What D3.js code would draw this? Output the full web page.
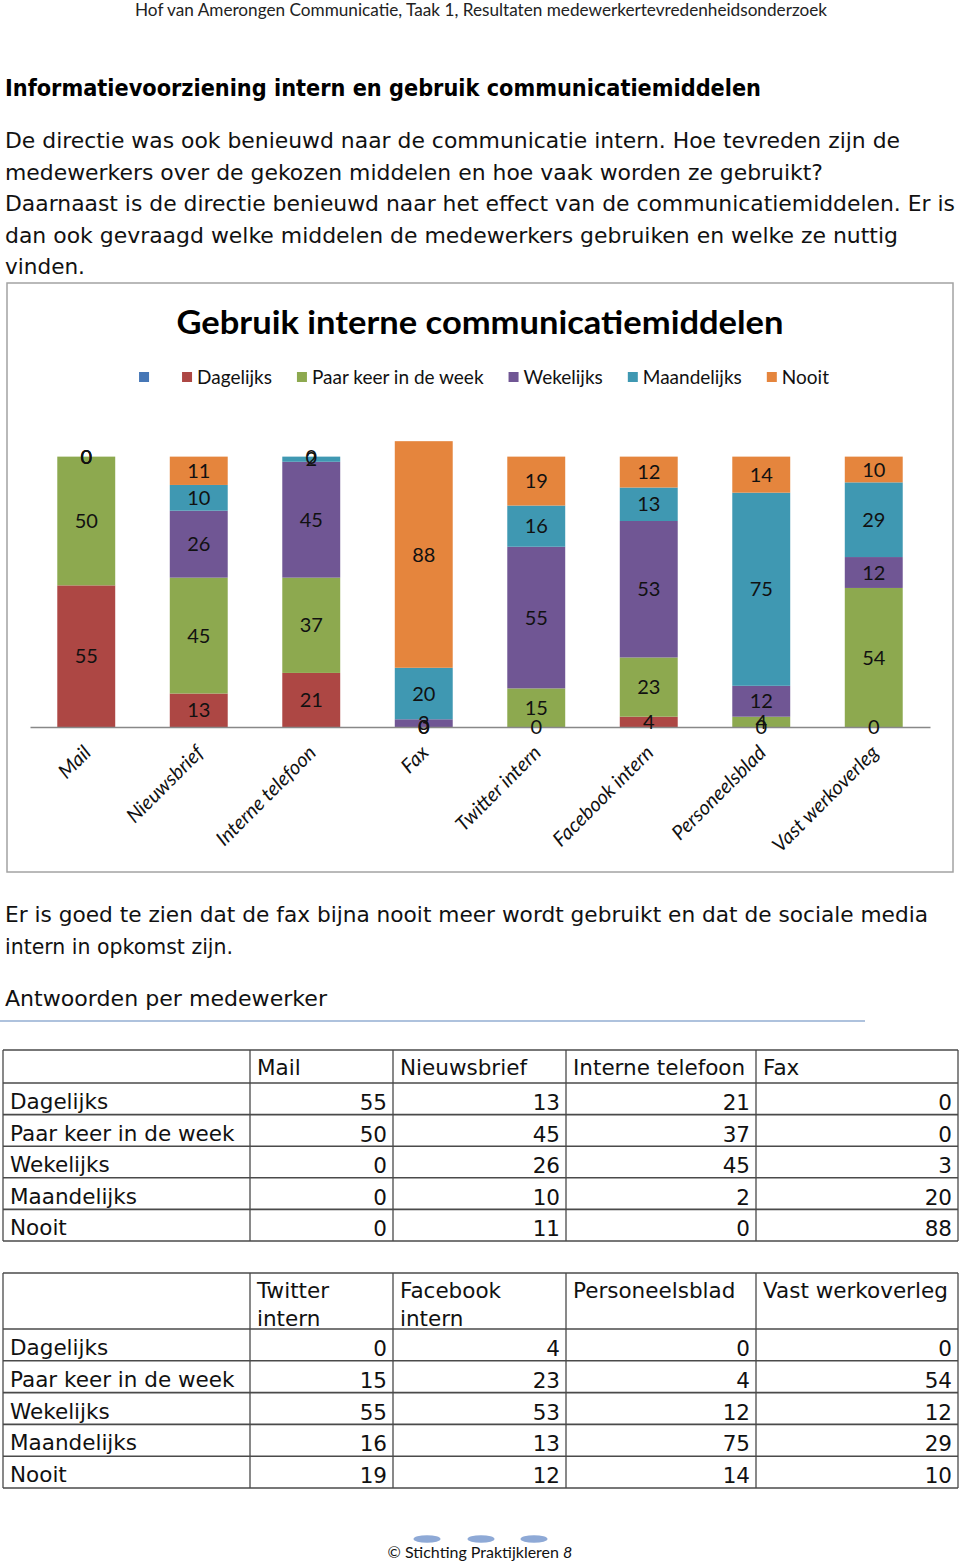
<!DOCTYPE html>
<html><head><meta charset="utf-8">
<script src="https://cdn.jsdelivr.net/npm/d3@7"></script>
<style>
html,body{margin:0;padding:0;background:#fff;}
svg{display:block;}
</style></head><body>
<script>
// ---------- data ----------
const categories = ["Mail","Nieuwsbrief","Interne telefoon","Fax","Twitter intern","Facebook intern","Personeelsblad","Vast werkoverleg"];
const seriesNames = ["Dagelijks","Paar keer in de week","Wekelijks","Maandelijks","Nooit"];
const dagelijks   = [55,13,21, 0, 0, 4, 0, 0];
const paarKeer    = [50,45,37, 0,15,23, 4,54];
const wekelijks   = [ 0,26,45, 3,55,53,12,12];
const maandelijks = [ 0,10, 2,20,16,13,75,29];
const nooit       = [ 0,11, 0,88,19,12,14,10];
const seriesValues = [dagelijks, paarKeer, wekelijks, maandelijks, nooit];
const seriesColors = ["#AD4744","#8DA94F","#705694","#3F98B2","#E5853D"];
const emptySeriesColor = "#4677B6";

const pageHeader = "Hof van Amerongen Communicatie, Taak 1, Resultaten medewerkertevredenheidsonderzoek";
const sectionTitle = "Informatievoorziening intern en gebruik communicatiemiddelen";
const introLines = [
  "De directie was ook benieuwd naar de communicatie intern. Hoe tevreden zijn de",
  "medewerkers over de gekozen middelen en hoe vaak worden ze gebruikt?",
  "Daarnaast is de directie benieuwd naar het effect van de communicatiemiddelen. Er is",
  "dan ook gevraagd welke middelen de medewerkers gebruiken en welke ze nuttig",
  "vinden."
];
const chartTitle = "Gebruik interne communicatiemiddelen";
const outroLines = [
  "Er is goed te zien dat de fax bijna nooit meer wordt gebruikt en dat de sociale media",
  "intern in opkomst zijn."
];
const tableCaption = "Antwoorden per medewerker";
const table1Headers = [["Mail"],["Nieuwsbrief"],["Interne telefoon"],["Fax"]];
const table2Headers = [["Twitter","intern"],["Facebook","intern"],["Personeelsblad"],["Vast werkoverleg"]];
const footerText = "© Stichting Praktijkleren ";
const footerPage = "8";

// ---------- layout ----------
const W = 960, H = 1563;
const bodyFont = "'DejaVu Sans', sans-serif";
const chartFont = "Lato, 'Open Sans', sans-serif";
const introWidths = [895, 818, 950, 893, 80];
const outroWidths = [923, 228];

const svg = d3.select("body").append("svg").attr("width", W).attr("height", H);

// page header
svg.append("text").attr("x", 481).attr("y", 16).attr("text-anchor","middle")
  .style("font-family", chartFont).style("font-size","17px").attr("fill","#222")
  .attr("textLength", 692).attr("lengthAdjust","spacingAndGlyphs").text(pageHeader);

// section title
svg.append("text").attr("x", 5).attr("y", 96)
  .style("font-family", bodyFont).style("font-size","23px").style("font-weight","bold").attr("fill","#000")
  .attr("textLength", 756).attr("lengthAdjust","spacingAndGlyphs").text(sectionTitle);

// intro paragraph
svg.selectAll("text.intro").data(introLines).join("text").attr("class","intro")
  .attr("x", 5).attr("y", (d,i) => 148 + i*31.6)
  .style("font-family", bodyFont).style("font-size","21.5px").attr("fill","#111")
  .attr("textLength", (d,i) => introWidths[i]).attr("lengthAdjust","spacingAndGlyphs")
  .text(d => d);

// ---------- chart ----------
const frame = {x: 7, y: 283, w: 946, h: 589};
svg.append("rect").attr("x", frame.x).attr("y", frame.y).attr("width", frame.w).attr("height", frame.h)
  .attr("fill","#fff").attr("stroke","#A3A3A3").attr("stroke-width",1.5);

svg.append("text").attr("x", 480).attr("y", 334).attr("text-anchor","middle")
  .style("font-family", chartFont).style("font-size","32px").style("font-weight","bold").attr("fill","#000")
  .attr("textLength", 607).attr("lengthAdjust","spacingAndGlyphs").text(chartTitle);

// legend
const legendItems = [{name:"", color: emptySeriesColor}]
  .concat(seriesNames.map((n,i) => ({name:n, color: seriesColors[i]})));
const legend = svg.append("g");
let lx = 0;
legendItems.forEach(it => {
  const g = legend.append("g").attr("transform", `translate(${lx},0)`);
  g.append("rect").attr("x",0).attr("y",-5).attr("width",10).attr("height",10).attr("fill", it.color);
  const t = g.append("text").attr("x",15).attr("y",0).attr("dy","0.36em")
    .style("font-family", chartFont).style("font-size","19px").attr("fill","#111").text(it.name);
  const w = it.name ? t.node().getComputedTextLength() : 0;
  lx += 15 + w + (it.name ? 25 : 28);
});
const legendTotal = lx - 25;
legend.attr("transform", `translate(${484 - legendTotal/2},377)`);

// scales
const plotLeft = 30, plotRight = 930, baseY = 727, pxPerUnit = 2.575;
const x = d3.scaleBand().domain(categories).range([plotLeft, plotRight]).paddingInner(0.485).paddingOuter(0.2425);
const y = d3.scaleLinear().domain([0, 120]).range([baseY, baseY - 120*pxPerUnit]);

const rows = categories.map((c, ci) => {
  const r = {cat: c};
  seriesNames.forEach((s, si) => r[s] = seriesValues[si][ci]);
  return r;
});
const stacked = d3.stack().keys(seriesNames)(rows);

const barsG = svg.append("g");
stacked.forEach((layer, si) => {
  barsG.append("g").attr("fill", seriesColors[si])
    .selectAll("rect").data(layer).join("rect")
    .attr("x", d => x(d.data.cat)).attr("width", x.bandwidth())
    .attr("y", d => y(d[1])).attr("height", d => y(d[0]) - y(d[1]));
});

// x axis
const xAxis = svg.append("g").attr("transform", `translate(0,${baseY})`)
  .call(d3.axisBottom(x).tickSize(0).tickSizeOuter(0));
xAxis.select(".domain").attr("stroke","#888").attr("stroke-width",1.3);
xAxis.selectAll(".tick text")
  .attr("x", 6).attr("y", 27).attr("dy", 0)
  .attr("transform", "rotate(-45,6,27)").attr("text-anchor","end")
  .style("font-family", chartFont).style("font-size","20px").style("font-style","italic").attr("fill","#111");

// data labels
const labelsG = svg.append("g");
stacked.forEach((layer, si) => {
  labelsG.append("g").selectAll("text").data(layer).join("text")
    .attr("x", d => x(d.data.cat) + x.bandwidth()/2)
    .attr("y", d => (y(d[0]) + y(d[1]))/2)
    .attr("dy","0.36em").attr("text-anchor","middle")
    .style("font-family", chartFont).style("font-size","20px").attr("fill","#111")
    .text(d => d.data[layer.key]);
});

// ---------- text after chart ----------
svg.selectAll("text.outro").data(outroLines).join("text").attr("class","outro")
  .attr("x", 5).attr("y", (d,i) => 922 + i*31.6)
  .style("font-family", bodyFont).style("font-size","21.5px").attr("fill","#111")
  .attr("textLength", (d,i) => outroWidths[i]).attr("lengthAdjust","spacingAndGlyphs")
  .text(d => d);

svg.append("text").attr("x", 5).attr("y", 1006)
  .style("font-family", bodyFont).style("font-size","21.5px").attr("fill","#111")
  .attr("textLength", 322).attr("lengthAdjust","spacingAndGlyphs").text(tableCaption);
svg.append("line").attr("x1",0).attr("x2",865).attr("y1",1021).attr("y2",1021)
  .attr("stroke","#93AED2").attr("stroke-width",1.5);

// ---------- tables ----------
const tableCols = [3, 250, 393, 566, 756, 958];
function drawTable(top, headerH, rowH, headers, catOffset) {
  const g = svg.append("g");
  const nRows = seriesNames.length;
  const bottom = top + headerH + nRows*rowH;
  const hLines = [top, top + headerH].concat(d3.range(1, nRows+1).map(i => top + headerH + i*rowH));
  g.selectAll("line.h").data(hLines).join("line").attr("class","h")
    .attr("x1", tableCols[0]).attr("x2", tableCols[tableCols.length-1])
    .attr("y1", d => d).attr("y2", d => d).attr("stroke","#4a4a4a").attr("stroke-width",1.6);
  g.selectAll("line.v").data(tableCols).join("line").attr("class","v")
    .attr("x1", d => d).attr("x2", d => d).attr("y1", top).attr("y2", bottom)
    .attr("stroke","#4a4a4a").attr("stroke-width",1.3);
  const txt = (sel) => sel.style("font-family", bodyFont).style("font-size","21.5px").attr("fill","#111");
  headers.forEach((lines, ci) => {
    lines.forEach((ln, li) => {
      g.append("text").attr("x", tableCols[ci+1] + 7).attr("y", top + 25 + li*28).call(txt).text(ln);
    });
  });
  seriesNames.forEach((s, ri) => {
    const rowTop = top + headerH + ri*rowH;
    g.append("text").attr("x", tableCols[0] + 7).attr("y", rowTop + 26).call(txt).text(s);
    for (let ci = 0; ci < 4; ci++) {
      g.append("text").attr("x", tableCols[ci+2] - 6).attr("y", rowTop + 27)
        .attr("text-anchor","end").call(txt).text(seriesValues[ri][catOffset + ci]);
    }
  });
}
drawTable(1050, 33, 31.6, table1Headers, 0);
drawTable(1273, 56, 31.8, table2Headers, 4);

// ---------- footer ----------
[427, 481, 534].forEach(cx => {
  svg.append("ellipse").attr("cx", cx).attr("cy", 1539).attr("rx", 13.5).attr("ry", 3.8).attr("fill","#8EA9D6");
});
const ft = svg.append("text").attr("x", 480).attr("y", 1558).attr("text-anchor","middle")
  .style("font-family", chartFont).style("font-size","16px").attr("fill","#111");
ft.append("tspan").text(footerText);
ft.append("tspan").style("font-style","italic").text(footerPage);
</script>
</body></html>
